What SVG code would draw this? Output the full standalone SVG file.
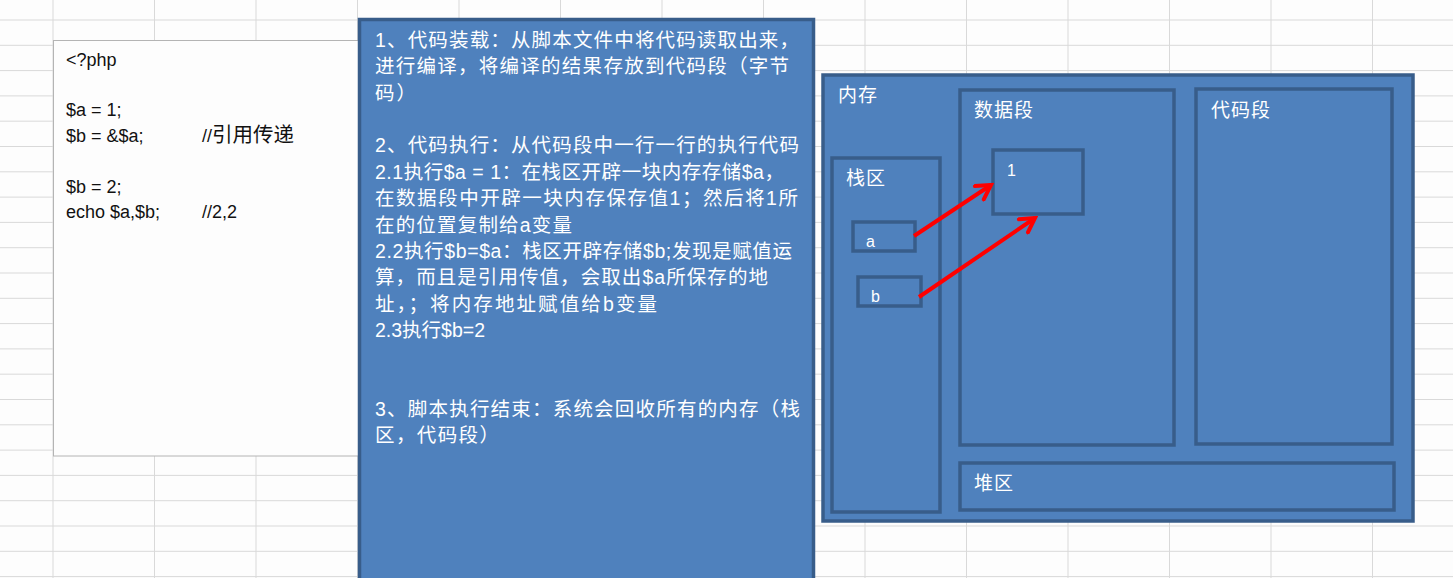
<svg xmlns="http://www.w3.org/2000/svg" width="1453" height="578" viewBox="0 0 1453 578">
<style>
.grid line{stroke:#d9d9d9;stroke-width:1}
.code{font-family:"Liberation Sans","Noto Sans CJK SC",sans-serif;font-size:18px;fill:#111}
.desc{font-family:"Liberation Sans","Noto Sans CJK SC",sans-serif;font-size:19.5px;fill:#fff}
.lbl{font-family:"Noto Sans CJK SC","Liberation Sans",sans-serif;font-size:19px;fill:#fff}
.small{font-family:"Liberation Sans",sans-serif;font-size:16px;fill:#fff}
.box{fill:#4F81BD;stroke:#385D8A;stroke-width:3.5}
.arrow{stroke:#ff0000;stroke-width:4;fill:none}
</style>
<defs>
<marker id="ah" viewBox="0 0 20 20" refX="17" refY="10" markerWidth="20" markerHeight="20" markerUnits="userSpaceOnUse" orient="auto">
<path d="M3,2 L17,10 L3,18" fill="none" stroke="#ff0000" stroke-width="4" stroke-linecap="round" stroke-linejoin="miter"/>
</marker>
</defs>
<rect width="1453" height="578" fill="#fdfdfd"/>
<g class="grid">
<line x1="0" y1="20" x2="1453" y2="20"/><line x1="0" y1="45.3" x2="1453" y2="45.3"/><line x1="0" y1="70.6" x2="1453" y2="70.6"/><line x1="0" y1="95.9" x2="1453" y2="95.9"/><line x1="0" y1="121.2" x2="1453" y2="121.2"/><line x1="0" y1="146.5" x2="1453" y2="146.5"/><line x1="0" y1="171.8" x2="1453" y2="171.8"/><line x1="0" y1="197.1" x2="1453" y2="197.1"/><line x1="0" y1="222.4" x2="1453" y2="222.4"/><line x1="0" y1="247.7" x2="1453" y2="247.7"/><line x1="0" y1="273" x2="1453" y2="273"/><line x1="0" y1="298.3" x2="1453" y2="298.3"/><line x1="0" y1="323.6" x2="1453" y2="323.6"/><line x1="0" y1="348.9" x2="1453" y2="348.9"/><line x1="0" y1="374.2" x2="1453" y2="374.2"/><line x1="0" y1="399.5" x2="1453" y2="399.5"/><line x1="0" y1="424.8" x2="1453" y2="424.8"/><line x1="0" y1="450.1" x2="1453" y2="450.1"/><line x1="0" y1="475.4" x2="1453" y2="475.4"/><line x1="0" y1="500.7" x2="1453" y2="500.7"/><line x1="0" y1="526" x2="1453" y2="526"/><line x1="0" y1="551.3" x2="1453" y2="551.3"/><line x1="0" y1="576.6" x2="1453" y2="576.6"/>
<line x1="53" y1="0" x2="53" y2="578"/><line x1="154.5" y1="0" x2="154.5" y2="578"/><line x1="256" y1="0" x2="256" y2="578"/><line x1="357.5" y1="0" x2="357.5" y2="578"/><line x1="459" y1="0" x2="459" y2="578"/><line x1="560.5" y1="0" x2="560.5" y2="578"/><line x1="662" y1="0" x2="662" y2="578"/><line x1="763.5" y1="0" x2="763.5" y2="578"/><line x1="865" y1="0" x2="865" y2="578"/><line x1="966.5" y1="0" x2="966.5" y2="578"/><line x1="1068" y1="0" x2="1068" y2="578"/><line x1="1169.5" y1="0" x2="1169.5" y2="578"/><line x1="1271" y1="0" x2="1271" y2="578"/><line x1="1372.5" y1="0" x2="1372.5" y2="578"/>
</g>
<g id="code-box">
<rect x="53.5" y="40.5" width="320" height="415.5" fill="#fdfdfd" stroke="#b4b4b4" stroke-width="1"/>
<text class="code" x="66" y="66">&lt;?php</text>
<text class="code" x="66" y="116">$a = 1;</text>
<text class="code" x="66" y="142">$b = &amp;$a;</text>
<text class="code" x="202" y="142">//<tspan font-size="20.5">引用传递</tspan></text>
<text class="code" x="66" y="193">$b = 2;</text>
<text class="code" x="66" y="218">echo $a,$b;</text>
<text class="code" x="202" y="218">//2,2</text>
</g>
<g id="desc-box">
<rect x="359.5" y="19.5" width="454" height="570" class="box"/>
<text class="desc" x="375" y="47" textLength="424" lengthAdjust="spacing">1、代码装载：从脚本文件中将代码读取出来，</text>
<text class="desc" x="375" y="73.4" textLength="414" lengthAdjust="spacing">进行编译，将编译的结果存放到代码段（字节</text>
<text class="desc" x="375" y="99.7" textLength="41" lengthAdjust="spacing">码）</text>
<text class="desc" x="375" y="152.4" textLength="424" lengthAdjust="spacing">2、代码执行：从代码段中一行一行的执行代码</text>
<text class="desc" x="375" y="178.8" textLength="409" lengthAdjust="spacing">2.1执行$a = 1：在栈区开辟一块内存存储$a，</text>
<text class="desc" x="375" y="205.1" textLength="423" lengthAdjust="spacing">在数据段中开辟一块内存保存值1；然后将1所</text>
<text class="desc" x="375" y="231.5" textLength="197" lengthAdjust="spacing">在的位置复制给a变量</text>
<text class="desc" x="375" y="257.8" textLength="417" lengthAdjust="spacing">2.2执行$b=$a：栈区开辟存储$b;发现是赋值运</text>
<text class="desc" x="375" y="284.2" textLength="393" lengthAdjust="spacing">算，而且是引用传值，会取出$a所保存的地</text>
<text class="desc" x="375" y="310.5" textLength="282" lengthAdjust="spacing">址，；将内存地址赋值给b变量</text>
<text class="desc" x="375" y="336.9">2.3执行$b=2</text>
<text class="desc" x="375" y="415.9" textLength="425" lengthAdjust="spacing">3、脚本执行结束：系统会回收所有的内存（栈</text>
<text class="desc" x="375" y="442.3" textLength="124" lengthAdjust="spacing">区，代码段）</text>
</g>
<g id="memory">
<rect x="823" y="75" width="590" height="446" class="box"/>
<text class="lbl" x="838" y="102" letter-spacing="1">内存</text>
</g>
<g id="stack">
<rect x="832" y="158" width="108" height="354" class="box"/>
<text class="lbl" x="846" y="185" letter-spacing="1">栈区</text>
</g>
<g id="data-seg">
<rect x="960" y="90" width="214" height="355" class="box"/>
<text class="lbl" x="974" y="117" letter-spacing="1">数据段</text>
</g>
<g id="code-seg">
<rect x="1196" y="89" width="196" height="355" class="box"/>
<text class="lbl" x="1211" y="117" letter-spacing="1">代码段</text>
</g>
<g id="heap">
<rect x="960" y="463" width="434" height="47" class="box"/>
<text class="lbl" x="974" y="490" letter-spacing="1">堆区</text>
</g>
<g id="val-1">
<rect x="993" y="150" width="90" height="64" class="box"/>
<text class="small" x="1007" y="176">1</text>
</g>
<g id="var-a">
<rect x="853" y="222" width="62" height="29" class="box"/>
<text class="small" x="866" y="247">a</text>
</g>
<g id="var-b">
<rect x="858" y="277" width="63" height="29" class="box"/>
<text class="small" x="871" y="302">b</text>
</g>
<g id="connectors">
<line class="arrow" x1="914" y1="236" x2="991" y2="185" marker-end="url(#ah)"/>
<line class="arrow" x1="919" y1="297" x2="1035" y2="218" marker-end="url(#ah)"/>
</g>
</svg>
